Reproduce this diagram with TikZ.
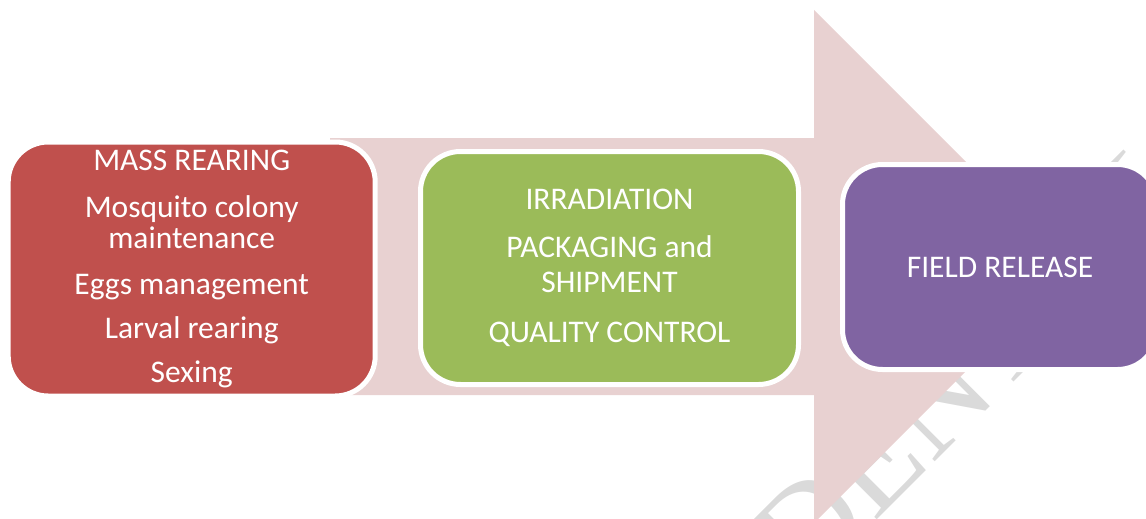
\documentclass[tikz,border=0pt]{standalone}
\usepackage{fontspec}
\setmainfont{Carlito}
\newfontfamily\markfont{Liberation Serif}
\definecolor{arrowpink}{HTML}{E8D1D1}
\definecolor{rearred}{HTML}{C0504D}
\definecolor{irradgreen}{HTML}{9BBB59}
\definecolor{releasepurple}{HTML}{8064A2}
\definecolor{markgray}{HTML}{DADADA}
\begin{document}
\begin{tikzpicture}[x=1pt,y=-1pt,
  stagebox/.style={shape=rectangle, draw=white, line width=5pt,
    rounded corners=40pt, inner sep=0pt, text=white, align=center},
  redtext/.style={font=\fontsize{31.5}{31.5}\selectfont},
  greentext/.style={font=\fontsize{31.5}{35}\selectfont}]
\useasboundingbox (0,0) rectangle (1146,519);
\clip (0,0) rectangle (1146,519);

% faint diagonal watermark behind everything
\node[anchor=base west, rotate=45, inner sep=0pt, text=markgray,
      font=\markfont\fontsize{133}{133}\selectfont] (mark) at (524.4,872.4) {CONFIDENTIAL};

% broad process arrow
\path[fill=arrowpink] (330,138) -- (814,138) -- (814,10) -- (1070.5,266.5)
  -- (814,523) -- (814,395) -- (330,395) -- cycle;

% process stages
\node[stagebox, redtext, fill=rearred, minimum width=367pt, minimum height=254pt]
  (rearing) at (191.7,269)
  {MASS REARING\\[15pt]
   Mosquito colony\\maintenance\\[14.5pt]
   Eggs management\\[12.5pt]
   Larval rearing\\[12pt]
   Sexing};

\node[stagebox, greentext, fill=irradgreen, minimum width=378pt, minimum height=233pt]
  (irradiation) at (609.5,268)
  {IRRADIATION\\[13pt]
   PACKAGING and\\SHIPMENT\\[15pt]
   QUALITY CONTROL};

\node[stagebox, greentext, fill=releasepurple, minimum width=315pt, minimum height=205pt]
  (release) at (1000,267)
  {FIELD RELEASE};
\end{tikzpicture}
\end{document}
